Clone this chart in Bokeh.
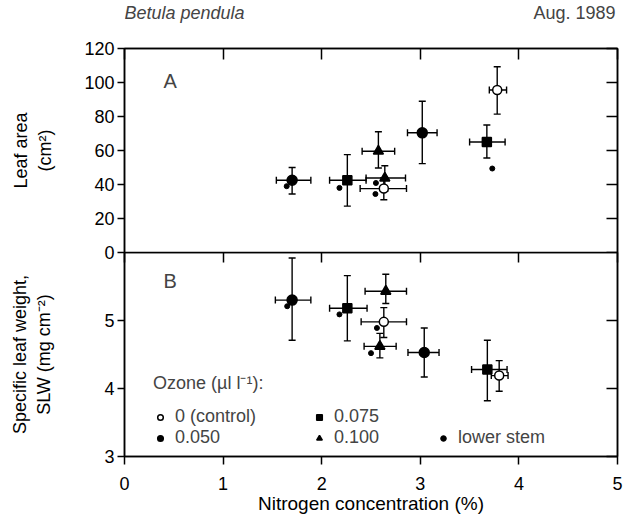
from bokeh.plotting import figure
from bokeh.models import (ColumnDataSource, Whisker, TeeHead, LinearAxis, Legend,
                          LegendItem, Label, Range1d, FixedTicker)
from bokeh.layouts import column
from bokeh.embed import file_html
from bokeh.resources import INLINE

FONT = "Liberation Sans"

x_ticks = [0, 1, 2, 3, 4, 5]
a_ticks = [0, 20, 40, 60, 80, 100, 120]
b_ticks = [3, 4, 5]

# ---------------- Panel A: leaf area (cm2) ----------------
a_ctrl_x = [2.63, 3.78]
a_ctrl_y = [37.6, 95.6]
a_ctrl_xlo = [2.39, 3.70]
a_ctrl_xhi = [2.86, 3.875]
a_ctrl_ylo = [31.0, 81.4]
a_ctrl_yhi = [44.0, 109.3]

a_o050_x = [1.70, 3.02]
a_o050_y = [42.5, 70.4]
a_o050_xlo = [1.54, 2.87]
a_o050_xhi = [1.89, 3.17]
a_o050_ylo = [34.4, 52.3]
a_o050_yhi = [50.0, 89.0]

a_o075_x = [2.26, 3.675]
a_o075_y = [42.5, 65.0]
a_o075_xlo = [2.08, 3.50]
a_o075_xhi = [2.45, 3.86]
a_o075_ylo = [27.3, 55.6]
a_o075_yhi = [57.6, 75.0]

a_o100_x = [2.575, 2.64]
a_o100_y = [59.6, 43.8]
a_o100_xlo = [2.41, 2.45]
a_o100_xhi = [2.74, 2.85]
a_o100_ylo = [49.7, 36.0]
a_o100_yhi = [71.0, 51.0]

a_low_x = [1.645, 2.18, 2.55, 2.545, 3.73]
a_low_y = [39.0, 38.0, 40.9, 34.4, 49.4]

# ---------------- Panel B: specific leaf weight (mg cm-2) ----------------
b_ctrl_x = [2.63, 3.80]
b_ctrl_y = [4.98, 4.19]
b_ctrl_xlo = [2.40, 3.72]
b_ctrl_xhi = [2.86, 3.89]
b_ctrl_ylo = [4.75, 3.96]
b_ctrl_yhi = [5.19, 4.41]

b_o050_x = [1.70, 3.04]
b_o050_y = [5.30, 4.53]
b_o050_xlo = [1.53, 2.875]
b_o050_xhi = [1.89, 3.19]
b_o050_ylo = [4.71, 4.17]
b_o050_yhi = [5.92, 4.89]

b_o075_x = [2.26, 3.68]
b_o075_y = [5.18, 4.28]
b_o075_xlo = [2.08, 3.52]
b_o075_xhi = [2.46, 3.88]
b_o075_ylo = [4.70, 3.82]
b_o075_yhi = [5.66, 4.71]

b_o100_x = [2.65, 2.59]
b_o100_y = [5.43, 4.62]
b_o100_xlo = [2.44, 2.43]
b_o100_xhi = [2.86, 2.755]
b_o100_ylo = [5.25, 4.45]
b_o100_yhi = [5.68, 4.81]

b_low_x = [1.65, 2.18, 2.56, 2.50]
b_low_y = [5.21, 5.09, 4.89, 4.52]

legend_title = "Ozone (µl l⁻¹):"
legend_labels = ["0 (control)", "0.050", "0.075", "0.100", "lower stem"]

FRAME_W = 493
FRAME_H = 204
LEFT = 124
RIGHT = 7
PAD = 12


def style_axis(ax, tick_in, tick_out, ticks, show_labels):
    ax.ticker = FixedTicker(ticks=ticks)
    ax.axis_line_width = 1.5
    ax.axis_line_color = "black"
    ax.major_tick_line_width = 1.5
    ax.major_tick_line_color = "black"
    ax.major_tick_in = tick_in
    ax.major_tick_out = tick_out
    ax.minor_tick_in = 0
    ax.minor_tick_out = 0
    ax.major_label_text_font = FONT
    ax.major_label_text_color = "black"
    ax.axis_label_text_font = FONT
    ax.axis_label_text_font_style = "normal"
    ax.axis_label_text_color = "black"
    ax.axis_label_text_font_size = "18px"
    if show_labels:
        ax.major_label_text_font_size = "18px"
    else:
        ax.major_label_overrides = {t: "" for t in ticks}
        ax.major_label_text_font_size = "1px"
        ax.major_label_standoff = 0


def make_fig(y_lo, y_hi, border_top, border_bottom):
    p = figure(frame_width=FRAME_W, frame_height=FRAME_H,
               x_range=Range1d(0, 5), y_range=Range1d(y_lo, y_hi),
               output_backend="svg", toolbar_location=None,
               min_border_left=LEFT, min_border_right=RIGHT,
               min_border_top=border_top, min_border_bottom=border_bottom,
               x_axis_location=None)
    p.grid.visible = False
    p.outline_line_color = "black"
    p.outline_line_width = 1.5
    p.background_fill_color = "white"
    p.border_fill_color = "white"
    return p


def draw_series(p, xs, ys, xlo, xhi, ylo, yhi, marker, size, fill):
    src = ColumnDataSource(dict(x=xs, y=ys, xlo=xlo, xhi=xhi, ylo=ylo, yhi=yhi))
    p.add_layout(Whisker(source=src, base="x", lower="ylo", upper="yhi", dimension="height",
                         line_width=1.4, line_color="black",
                         lower_head=TeeHead(size=7, line_width=1.4),
                         upper_head=TeeHead(size=7, line_width=1.4)))
    p.add_layout(Whisker(source=src, base="y", lower="xlo", upper="xhi", dimension="width",
                         line_width=1.4, line_color="black",
                         lower_head=TeeHead(size=7, line_width=1.4),
                         upper_head=TeeHead(size=7, line_width=1.4)))
    return p.scatter("x", "y", source=src, marker=marker, size=size,
                     fill_color=fill, line_color="black", line_width=1.5)


# ---------------- Header strip (species / date) ----------------
p0 = figure(frame_width=FRAME_W, frame_height=48 - PAD,
            x_range=Range1d(0, 1), y_range=Range1d(0, 1),
            output_backend="svg", toolbar_location=None,
            min_border_left=LEFT, min_border_right=RIGHT, min_border_top=0, min_border_bottom=0,
            x_axis_location=None, y_axis_location=None)
p0.grid.visible = False
p0.outline_line_color = None
p0.add_layout(Label(x=0, y=48 - PAD - 12, x_units="screen", y_units="screen", text="Betula pendula",
                    text_font=FONT, text_font_size="18px", text_font_style="italic",
                    text_baseline="middle"))
p0.add_layout(Label(x=FRAME_W - 2, y=48 - PAD - 12, x_units="screen", y_units="screen", text="Aug. 1989",
                    text_font=FONT, text_font_size="18px", text_baseline="middle",
                    text_align="right"))

# ---------------- Figure A ----------------
p1 = make_fig(0, 120, PAD, PAD)
yl = p1.yaxis[0]
style_axis(yl, 0, 7, a_ticks, True)
yl.major_label_standoff = 3
yl.axis_label = "Leaf area\n(cm²)"
yl.axis_label_standoff = 26

top1 = LinearAxis()
style_axis(top1, 11, 0, x_ticks, False)
p1.add_layout(top1, "above")
right1 = LinearAxis()
style_axis(right1, 11, 0, a_ticks, False)
p1.add_layout(right1, "right")

draw_series(p1, a_ctrl_x, a_ctrl_y, a_ctrl_xlo, a_ctrl_xhi, a_ctrl_ylo, a_ctrl_yhi, "circle", 9, "white")
draw_series(p1, a_o050_x, a_o050_y, a_o050_xlo, a_o050_xhi, a_o050_ylo, a_o050_yhi, "circle", 10, "black")
draw_series(p1, a_o075_x, a_o075_y, a_o075_xlo, a_o075_xhi, a_o075_ylo, a_o075_yhi, "square", 9, "black")
draw_series(p1, a_o100_x, a_o100_y, a_o100_xlo, a_o100_xhi, a_o100_ylo, a_o100_yhi, "triangle", 10, "black")
p1.scatter(a_low_x, a_low_y, marker="circle", size=5, fill_color="black", line_color="black")

p1.add_layout(Label(x=39, y=172, x_units="screen", y_units="screen", text="A",
                    text_font=FONT, text_font_size="20px", text_baseline="middle"))

# ---------------- Figure B ----------------
p2 = make_fig(3, 6, 0, 55)
p2.border_fill_alpha = 0
p2.margin = (-PAD, 0, 0, 0)
yl2 = p2.yaxis[0]
style_axis(yl2, 0, 7, b_ticks, True)
yl2.major_label_standoff = 3
yl2.axis_label = "Specific leaf weight,\nSLW (mg cm⁻²)"
yl2.axis_label_standoff = 47

bot2 = LinearAxis()
style_axis(bot2, 0, 8, x_ticks, True)
bot2.major_label_standoff = 12
bot2.axis_label = "Nitrogen concentration (%)"
bot2.axis_label_text_font_size = "19px"
bot2.axis_label_standoff = 0
p2.add_layout(bot2, "below")

top2 = LinearAxis()
style_axis(top2, 10, 0, x_ticks, False)
p2.add_layout(top2, "above")
right2 = LinearAxis()
style_axis(right2, 11, 0, b_ticks, False)
p2.add_layout(right2, "right")

r_ctrl = draw_series(p2, b_ctrl_x, b_ctrl_y, b_ctrl_xlo, b_ctrl_xhi, b_ctrl_ylo, b_ctrl_yhi, "circle", 9, "white")
r_050 = draw_series(p2, b_o050_x, b_o050_y, b_o050_xlo, b_o050_xhi, b_o050_ylo, b_o050_yhi, "circle", 10, "black")
r_075 = draw_series(p2, b_o075_x, b_o075_y, b_o075_xlo, b_o075_xhi, b_o075_ylo, b_o075_yhi, "square", 9, "black")
r_100 = draw_series(p2, b_o100_x, b_o100_y, b_o100_xlo, b_o100_xhi, b_o100_ylo, b_o100_yhi, "triangle", 10, "black")
r_low = p2.scatter(b_low_x, b_low_y, marker="circle", size=5, fill_color="black", line_color="black")

p2.add_layout(Label(x=39, y=176, x_units="screen", y_units="screen", text="B",
                    text_font=FONT, text_font_size="20px", text_baseline="middle"))

leg1 = Legend(items=[LegendItem(label=legend_labels[0], renderers=[r_ctrl]),
                     LegendItem(label=legend_labels[1], renderers=[r_050]),
                     LegendItem(label=legend_labels[2], renderers=[r_075]),
                     LegendItem(label=legend_labels[3], renderers=[r_100])],
              title=legend_title, nrows=2, location=(29, 8))
leg2 = Legend(items=[LegendItem(label=legend_labels[4], renderers=[r_low])],
              location=(312, 8))
for lg in (leg1, leg2):
    lg.label_text_font = FONT
    lg.label_text_font_size = "18px"
    lg.title_text_font = FONT
    lg.title_text_font_size = "18px"
    lg.title_text_font_style = "normal"
    lg.title_standoff = 12
    lg.border_line_color = None
    lg.background_fill_alpha = 0
    lg.padding = 0
    lg.margin = 0
    lg.spacing = 0
    lg.glyph_width = 14
    lg.glyph_height = 20
    lg.label_height = 20
    lg.label_standoff = 8
leg1.label_width = 137
p2.add_layout(leg1, "center")
p2.add_layout(leg2, "center")

layout = column(p0, p1, p2, spacing=0)
open("out.html", "w").write(file_html(layout, INLINE))
